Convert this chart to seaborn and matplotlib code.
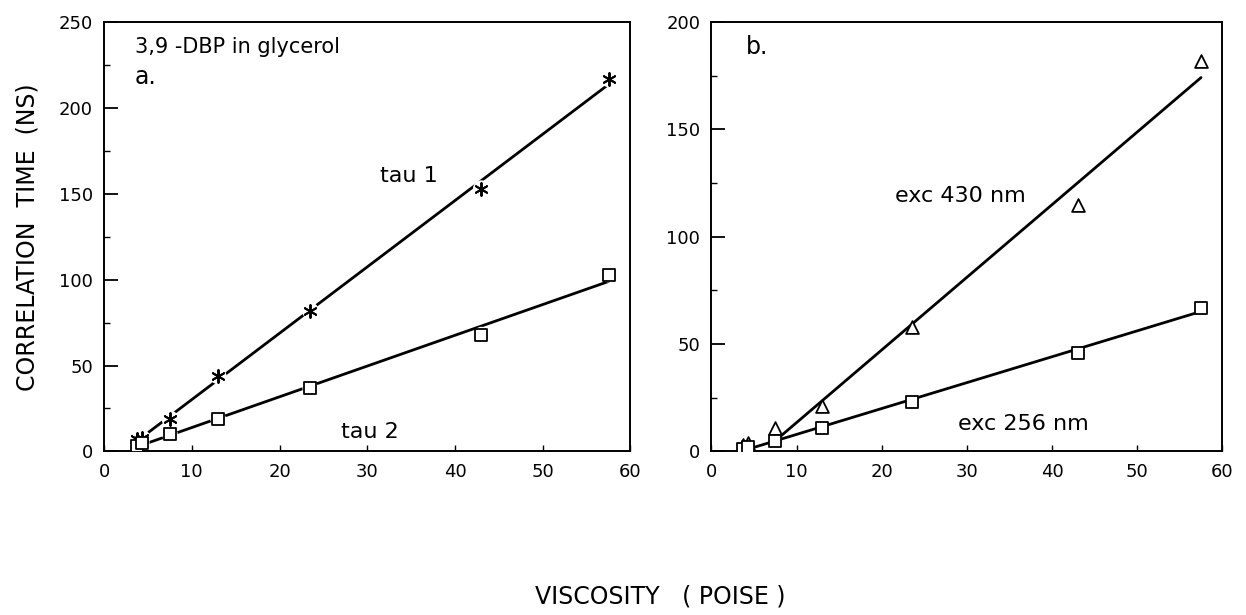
import numpy as np
import pandas as pd
import matplotlib
matplotlib.use("Agg")
import matplotlib.pyplot as plt
import seaborn as sns

# ---- data ----
viscosity = [3.7, 4.3, 7.5, 13.0, 23.5, 43.0, 57.5]
tau1 = [7, 8, 19, 44, 82, 153, 217]
tau2 = [3, 5, 10, 19, 37, 68, 103]
exc430 = [3, 4, 11, 21, 58, 115, 182]
exc256 = [1, 2, 5, 11, 23, 46, 67]

sns.set_theme(style="ticks")
plt.rcParams['font.family'] = ['DejaVu Sans']
plt.rcParams['axes.linewidth'] = 1.4
plt.rcParams['text.color'] = 'black'
plt.rcParams['xtick.color'] = 'black'
plt.rcParams['ytick.color'] = 'black'
plt.rcParams['xtick.labelcolor'] = 'black'
plt.rcParams['ytick.labelcolor'] = 'black'

fig = plt.figure(figsize=(12.46, 6.15), dpi=100)
axa = fig.add_axes([0.0835, 0.266, 0.4225, 0.698])
axb = fig.add_axes([0.571, 0.266, 0.410, 0.698])

def fitline(ax, x, y, xmin=None):
    x = np.asarray(x, float); y = np.asarray(y, float)
    m = np.ones_like(x, bool) if xmin is None else x >= xmin
    k, b = np.polyfit(x[m], y[m], 1)
    xs = np.array([x[m].min(), x.max()])
    df = pd.DataFrame({"x": xs, "y": k * xs + b})
    sns.lineplot(data=df, x="x", y="y", ax=ax, color="black", lw=2.0, zorder=1)

def markers(ax, x, y, marker, size, gap=False):
    df = pd.DataFrame({"x": x, "y": y})
    if gap:
        sns.scatterplot(data=df, x="x", y="y", ax=ax, marker="o", s=size * 1.7,
                        color="white", edgecolor="none", zorder=2)
    if marker == "ast":
        sns.scatterplot(data=df, x="x", y="y", ax=ax, marker=(6, 2, 0), s=size,
                        color="black", linewidth=1.4, zorder=3)
    else:
        sns.scatterplot(data=df, x="x", y="y", ax=ax, marker=marker, s=size,
                        facecolor="white", edgecolor="black", linewidth=1.3, zorder=3)

# panel a
fitline(axa, viscosity, tau1)
fitline(axa, viscosity, tau2)
markers(axa, viscosity, tau1, "ast", 85, gap=True)
markers(axa, viscosity, tau2, "s", 75, gap=True)

# panel b
fitline(axb, viscosity, exc430, xmin=7.5)
fitline(axb, viscosity, exc256)
markers(axb, viscosity, exc430, "^", 85)
markers(axb, viscosity, exc256, "s", 75)

for ax, ymax, ystep in [(axa, 250, 50), (axb, 200, 50)]:
    ax.set_xlim(0, 60)
    ax.set_ylim(0, ymax)
    ax.set_xticks(np.arange(0, 61, 10))
    ax.set_yticks(np.arange(0, ymax + 1, ystep))
    ax.set_yticks(np.arange(ystep / 2, ymax, ystep), minor=True)
    ax.tick_params(axis="y", which="major", direction="in", length=10, width=1.3,
                   labelsize=13, pad=8)
    ax.tick_params(axis="y", which="minor", direction="in", length=4, width=1.0)
    ax.tick_params(axis="x", which="major", direction="in", length=4, width=1.0,
                   labelsize=13, pad=8)
    ax.set_xlabel("")
    ax.set_ylabel("")
    for s in ax.spines.values():
        s.set_visible(True)
        s.set_color("black")

axa.text(3.5, 232, "3,9 -DBP in glycerol", fontsize=15)
axa.text(3.5, 214, "a.", fontsize=17)
axa.text(31.5, 157, "tau 1", fontsize=16)
axa.text(27, 8, "tau 2", fontsize=16)

axb.text(4, 185, "b.", fontsize=17)
axb.text(21.5, 116, "exc 430 nm", fontsize=16)
axb.text(29, 10, "exc 256 nm", fontsize=16)

fig.text(0.53, 0.03, "VISCOSITY   ( POISE )", ha="center", va="center", fontsize=17)
fig.text(0.022, 0.615, "CORRELATION  TIME  (NS)", ha="center", va="center",
         rotation=90, fontsize=17)

fig.savefig("out.png", dpi=100, facecolor="white")
